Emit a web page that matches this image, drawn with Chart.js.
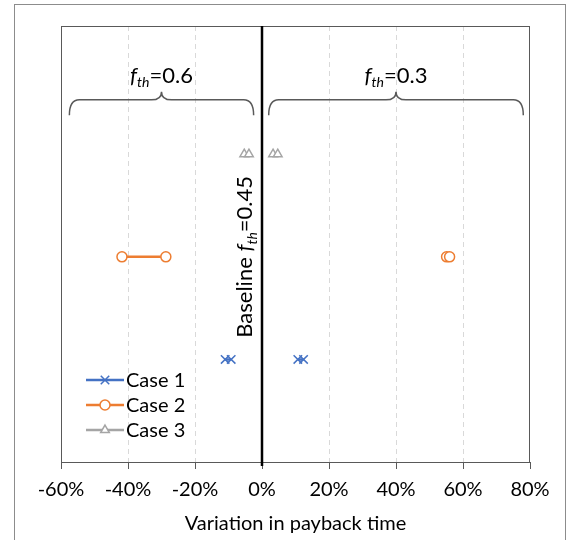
<!DOCTYPE html>
<html>
<head>
<meta charset="utf-8">
<script src="https://cdn.jsdelivr.net/npm/chart.js@4/dist/chart.umd.min.js"></script>
<style>
  html, body { margin: 0; padding: 0; background: #fff; }
  #wrap { width: 569px; height: 540px; position: relative; }
</style>
</head>
<body>
<div id="wrap"><canvas id="c" width="569" height="540"></canvas></div>
<script>
// Case names and the row each case sits on
const caseNames = ['Case 1', 'Case 2', 'Case 3'];
const caseRows = [1, 2, 3];

// Variation in payback time (%) for each threshold setting
const case1Fth06 = [-11.0, -9.2];
const case1Fth03 = [10.7, 12.4];
const case2Fth06 = [-41.8, -28.7];
const case2Fth03 = [55.1, 56.0];
const case3Fth06 = [-5.3, -3.9];
const case3Fth03 = [3.3, 4.7];

// Axis ticks (%)
const xTicks = [-60, -40, -20, 0, 20, 40, 60, 80];

// Brace spans (%) and the threshold each brace stands for
const braceFth06 = [-57.5, -2.5];
const braceFth03 = [2, 78];
const braceValues = ['0.6', '0.3'];
const baselineValue = '0.45';

const caseColors = ['#4472C4', '#ED7D31', '#A5A5A5'];
const caseMarkers = ['crossRot', 'circle', 'triangle'];
const FONT = 'Lato';

function pairPoints(low, high, row) {
  return [
    { x: low[0], y: row }, { x: low[1], y: row },
    { x: 0, y: null },
    { x: high[0], y: row }, { x: high[1], y: row }
  ];
}

const seriesLow = [case1Fth06, case2Fth06, case3Fth06];
const seriesHigh = [case1Fth03, case2Fth03, case3Fth03];

const datasets = caseNames.map((name, i) => ({
  label: name,
  data: pairPoints(seriesLow[i], seriesHigh[i], caseRows[i]),
  showLine: true,
  spanGaps: false,
  borderColor: caseColors[i],
  backgroundColor: '#ffffff',
  borderWidth: 2.5,
  pointStyle: caseMarkers[i],
  pointRadius: caseMarkers[i] === 'crossRot' ? 6 : 5,
  pointBorderWidth: 1.5,
  pointBorderColor: caseColors[i],
  pointBackgroundColor: '#ffffff'
}));

// f_th label: italic f, italic subscript "th", then "=value"
function fthParts(ctx, value, size) {
  const parts = [
    { t: 'f', font: `italic ${size}px ${FONT}`, dy: 0 },
    { t: 'th', font: `italic ${Math.round(size * 0.65)}px ${FONT}`, dy: size * 0.22 },
    { t: '=' + value, font: `${size}px ${FONT}`, dy: 0 }
  ];
  let w = 0;
  parts.forEach(p => { ctx.font = p.font; p.w = ctx.measureText(p.t).width; w += p.w; });
  return { parts, w };
}
function drawParts(ctx, parts, x, y) {
  parts.forEach(p => {
    ctx.font = p.font;
    ctx.fillText(p.t, x, y + p.dy);
    x += p.w;
  });
}

function drawBrace(ctx, x0, x1, yEnd, yMid, yTip) {
  const xc = (x0 + x1) / 2;
  const r = 10;
  ctx.beginPath();
  ctx.moveTo(x0, yEnd);
  ctx.quadraticCurveTo(x0, yMid, x0 + r, yMid);
  ctx.lineTo(xc - r, yMid);
  ctx.quadraticCurveTo(xc, yMid, xc, yTip);
  ctx.quadraticCurveTo(xc, yMid, xc + r, yMid);
  ctx.lineTo(x1 - r, yMid);
  ctx.quadraticCurveTo(x1, yMid, x1, yEnd);
  ctx.stroke();
}

const decorPlugin = {
  id: 'decor',
  beforeDraw(chart) {
    const ctx = chart.ctx;
    ctx.save();
    ctx.fillStyle = '#fff';
    ctx.fillRect(0, 0, chart.width, chart.height);
    ctx.strokeStyle = '#8c8c8c';
    ctx.lineWidth = 1;
    ctx.strokeRect(14.5, 4.5, 551, 600);
    ctx.restore();
  },
  beforeDatasetsDraw(chart) {
    const ctx = chart.ctx;
    const a = chart.chartArea;
    const xs = chart.scales.x;
    ctx.save();
    ctx.strokeStyle = '#595959';
    ctx.lineWidth = 1;
    ctx.strokeRect(a.left + 0.5, a.top + 0.5, a.right - a.left - 1, a.bottom - a.top);
    // baseline at zero
    const x0 = Math.round(xs.getPixelForValue(0));
    ctx.strokeStyle = '#000';
    ctx.lineWidth = 2.5;
    ctx.beginPath();
    ctx.moveTo(x0, a.top);
    ctx.lineTo(x0, a.bottom + 4);
    ctx.stroke();
    ctx.restore();
  },
  afterDraw(chart) {
    const ctx = chart.ctx;
    const xs = chart.scales.x;
    const ys = chart.scales.y;
    ctx.save();

    // braces above the two groups
    const yEnd = ys.getPixelForValue(3.38);
    const yMid = ys.getPixelForValue(3.53);
    const yTip = ys.getPixelForValue(3.61);
    ctx.strokeStyle = '#595959';
    ctx.lineWidth = 1.5;
    [braceFth06, braceFth03].forEach((b, i) => {
      const px0 = xs.getPixelForValue(b[0]);
      const px1 = xs.getPixelForValue(b[1]);
      drawBrace(ctx, px0, px1, yEnd, yMid, yTip);
      const lbl = fthParts(ctx, braceValues[i], 22);
      ctx.fillStyle = '#000';
      ctx.textBaseline = 'alphabetic';
      ctx.textAlign = 'left';
      drawParts(ctx, lbl.parts, (px0 + px1) / 2 - lbl.w / 2, yTip - 9);
    });

    // rotated baseline label
    const bx = xs.getPixelForValue(0) - 17;
    const by = ys.getPixelForValue(2.0);
    ctx.translate(bx, by);
    ctx.rotate(-Math.PI / 2);
    const head = { t: 'Baseline ', font: `22px ${FONT}`, dy: 0 };
    ctx.font = head.font;
    head.w = ctx.measureText(head.t).width;
    const rest = fthParts(ctx, baselineValue, 22);
    const total = head.w + rest.w;
    ctx.fillStyle = '#000';
    drawParts(ctx, [head].concat(rest.parts), -total / 2, 7);
    ctx.setTransform(1, 0, 0, 1, 0, 0);

    // legend
    const lx0 = 86, lx1 = 124, ly = [380, 405, 430];
    chart.data.datasets.forEach((ds, i) => {
      ctx.strokeStyle = ds.borderColor;
      ctx.lineWidth = 2.5;
      ctx.beginPath();
      ctx.moveTo(lx0, ly[i]);
      ctx.lineTo(lx1, ly[i]);
      ctx.stroke();
      ctx.fillStyle = '#fff';
      ctx.lineWidth = 1.5;
      Chart.helpers.drawPoint(ctx, {
        pointStyle: ds.pointStyle,
        radius: ds.pointRadius,
        borderWidth: 1.5,
        rotation: 0
      }, (lx0 + lx1) / 2, ly[i]);
      ctx.fillStyle = '#000';
      ctx.font = `20px ${FONT}`;
      ctx.textBaseline = 'middle';
      ctx.textAlign = 'left';
      ctx.fillText(ds.label, lx1 + 2, ly[i] + 1);
    });
    ctx.restore();
  }
};

new Chart(document.getElementById('c'), {
  type: 'scatter',
  data: { datasets },
  options: {
    responsive: false,
    animation: false,
    layout: { padding: { left: 61, right: 39, top: 26, bottom: 4 } },
    plugins: { legend: { display: false }, tooltip: { enabled: false } },
    scales: {
      x: {
        type: 'linear',
        min: xTicks[0],
        max: xTicks[xTicks.length - 1],
        afterBuildTicks: scale => { scale.ticks = xTicks.map(v => ({ value: v })); },
        ticks: {
          callback: v => v + '%',
          color: '#000',
          font: { family: FONT, size: 20 },
          padding: 9,
          maxRotation: 0
        },
        grid: {
          color: c => (c.tick && (c.tick.value === 0 || c.tick.value === xTicks[0] || c.tick.value === xTicks[xTicks.length - 1])) ? 'rgba(0,0,0,0)' : '#d9d9d9',
          tickColor: '#595959',
          tickLength: 7,
          tickBorderDash: [],
          lineWidth: 1
        },
        border: { display: true, color: '#595959', width: 1, dash: [5, 4] },
        title: {
          display: true,
          text: 'Variation in payback time',
          color: '#000',
          font: { family: FONT, size: 20 },
          padding: { top: 1, bottom: 0 }
        }
      },
      y: {
        display: false,
        min: 0,
        max: 4.25
      }
    }
  },
  plugins: [decorPlugin]
});
</script>
</body>
</html>
